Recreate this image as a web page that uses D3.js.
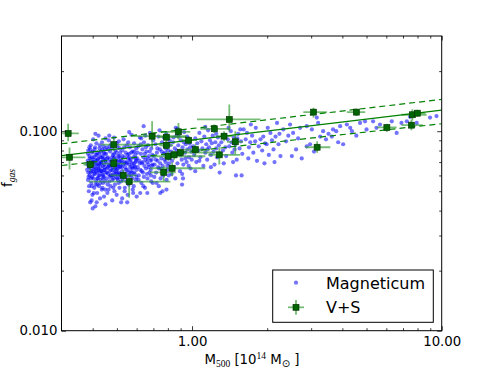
<!DOCTYPE html>
<html>
<head>
<meta charset="utf-8">
<script src="https://cdn.jsdelivr.net/npm/d3@7"></script>
<style>
  body { margin: 0; background: #fff; }
  svg { display: block; font-family: "DejaVu Sans", sans-serif; }
</style>
</head>
<body>
<div id="chart"></div>
<script>
// Axis setup
var xDomain = [0.3, 10];
var yDomain = [0.01, 0.3];
var xMajorTicks = [1, 10];
var xTickLabels = ['1.00', '10.00'];
var xMinorTicks = [0.4, 0.5, 0.6, 0.7, 0.8, 0.9, 2, 3, 4, 5, 6, 7, 8, 9];
var yMajorTicks = [0.01, 0.1];
var yTickLabels = ['0.010', '0.100'];
var yMinorTicks = [0.02, 0.03, 0.04, 0.05, 0.06, 0.07, 0.08, 0.09, 0.2];

// V+S clusters: M500 [1e14 Msun] and f_gas, with error bar ends
var vsMass   = [0.319, 0.323, 0.391, 0.486, 0.486, 0.53, 0.56, 0.692, 0.789, 0.789,
                0.882, 0.969, 0.802, 0.847, 0.898, 0.77, 0.832, 1.031, 1.228, 1.41,
                1.343, 1.49, 1.286, 3.065, 4.553, 3.17, 6.03, 7.63, 7.99, 7.56];
var vsMassLo = [0.302, 0.30, 0.367, 0.43, 0.434, 0.47, 0.385, 0.57, 0.73, 0.74,
                0.747, 0.912, 0.68, 0.80, 0.819, 0.68, 0.68, 0.923, 1.08, 1.047,
                1.25, 1.38, 1.16, 2.79, 4.17, 2.84, 5.5, 6.9, 7.4, 6.9];
var vsMassHi = [0.352, 0.374, 0.41, 0.68, 0.541, 0.60, 0.819, 0.95, 0.955, 0.84,
                0.984, 1.047, 1.13, 0.90, 1.30, 0.86, 1.13, 1.18, 1.42, 1.88,
                1.45, 1.60, 1.56, 3.47, 4.94, 3.58, 6.6, 8.7, 8.6, 8.4];
var vsFgas   = [0.0974, 0.074, 0.068, 0.0857, 0.0688, 0.0601, 0.0559, 0.0944, 0.0933, 0.085,
                0.0993, 0.0901, 0.0749, 0.0761, 0.0782, 0.0622, 0.0652, 0.0809, 0.1028, 0.1145,
                0.0944, 0.0885, 0.0761, 0.1246, 0.1246, 0.0831, 0.1044, 0.1209, 0.1231, 0.1072];
var vsFgasLo = [0.0891, 0.0642, 0.063, 0.0794, 0.0642, 0.0565, 0.0464, 0.0825, 0.087, 0.081,
                0.0908, 0.086, 0.071, 0.072, 0.074, 0.0561, 0.0594, 0.076, 0.098, 0.100,
                0.089, 0.0764, 0.068, 0.117, 0.119, 0.0779, 0.099, 0.113, 0.118, 0.101];
var vsFgasHi = [0.1089, 0.0828, 0.0721, 0.0933, 0.0738, 0.0642, 0.0594, 0.1123, 0.100, 0.089,
                0.110, 0.094, 0.079, 0.080, 0.082, 0.0667, 0.0696, 0.086, 0.108, 0.136,
                0.100, 0.100, 0.083, 0.131, 0.130, 0.0891, 0.109, 0.129, 0.128, 0.114];

// power-law fit and its band, evaluated at the axis ends
var fitMass  = [0.3, 10];
var fitBest  = [0.0755, 0.1275];
var fitUpper = [0.0865, 0.1443];
var fitLower = [0.0673, 0.109];

// Magneticum simulated clusters [M500, f_gas]
var magneticumPoints = [
  [0.380,0.064],[0.382,0.071],[0.383,0.057],[0.384,0.080],[0.386,0.050],[0.387,0.066],[0.388,0.075],[0.389,0.060],[0.390,0.069],[0.391,0.044],
  [0.392,0.062],[0.393,0.085],[0.394,0.072],[0.395,0.055],[0.396,0.067],[0.397,0.078],[0.398,0.059],[0.399,0.048],[0.400,0.070],[0.401,0.063],
  [0.402,0.091],[0.403,0.058],[0.404,0.074],[0.405,0.066],[0.406,0.052],[0.407,0.081],[0.408,0.061],[0.409,0.069],[0.410,0.042],[0.411,0.076],
  [0.412,0.065],[0.413,0.056],[0.414,0.087],[0.415,0.071],[0.416,0.062],[0.417,0.049],[0.418,0.078],[0.419,0.067],[0.420,0.058],[0.421,0.073],
  [0.422,0.095],[0.423,0.064],[0.424,0.053],[0.425,0.069],[0.426,0.082],[0.427,0.060],[0.428,0.046],[0.429,0.074],[0.430,0.066],[0.431,0.057],
  [0.432,0.079],[0.433,0.063],[0.434,0.070],[0.435,0.051],[0.436,0.088],[0.437,0.061],[0.438,0.075],[0.439,0.067],[0.440,0.055],[0.441,0.072],
  [0.442,0.084],[0.443,0.059],[0.444,0.047],[0.445,0.068],[0.446,0.064],[0.447,0.077],[0.448,0.056],[0.449,0.071],[0.450,0.092],[0.451,0.062],
  [0.381,0.068],[0.385,0.059],[0.389,0.073],[0.393,0.065],[0.397,0.053],[0.401,0.079],[0.405,0.061],[0.409,0.083],[0.413,0.068],[0.417,0.058],
  [0.421,0.065],[0.425,0.077],[0.429,0.055],[0.433,0.069],[0.437,0.081],[0.441,0.060],[0.445,0.073],[0.449,0.051],[0.383,0.077],[0.387,0.053],
  [0.391,0.081],[0.395,0.063],[0.399,0.067],[0.403,0.070],[0.407,0.064],[0.411,0.054],[0.415,0.076],[0.419,0.072],[0.423,0.060],[0.427,0.085],
  [0.431,0.070],[0.435,0.063],[0.439,0.058],[0.443,0.078],[0.447,0.066],[0.384,0.062],[0.394,0.058],[0.404,0.049],[0.414,0.063],[0.424,0.068],
  [0.434,0.074],[0.444,0.064],[0.388,0.083],[0.398,0.074],[0.408,0.072],[0.418,0.054],[0.428,0.063],[0.438,0.052],[0.448,0.081],[0.396,0.045],
  [0.452,0.070],[0.454,0.058],[0.455,0.083],[0.457,0.065],[0.458,0.049],[0.460,0.074],[0.461,0.061],[0.463,0.068],[0.464,0.090],[0.466,0.056],
  [0.467,0.072],[0.469,0.063],[0.470,0.079],[0.472,0.053],[0.473,0.067],[0.475,0.086],[0.476,0.060],[0.478,0.071],[0.479,0.045],[0.481,0.064],
  [0.482,0.076],[0.484,0.058],[0.485,0.069],[0.487,0.093],[0.488,0.062],[0.490,0.074],[0.491,0.054],[0.493,0.066],[0.494,0.080],[0.496,0.059],
  [0.497,0.071],[0.499,0.048],[0.500,0.064],[0.502,0.084],[0.503,0.068],[0.505,0.057],[0.506,0.075],[0.508,0.062],[0.509,0.089],[0.511,0.070],
  [0.512,0.052],[0.514,0.066],[0.515,0.078],[0.517,0.060],[0.518,0.073],[0.520,0.044],[0.453,0.077],[0.456,0.062],[0.459,0.054],[0.462,0.081],
  [0.465,0.067],[0.468,0.059],[0.471,0.070],[0.474,0.064],[0.477,0.082],[0.480,0.057],[0.483,0.066],[0.486,0.073],[0.489,0.050],[0.492,0.069],
  [0.495,0.063],[0.498,0.078],[0.501,0.058],[0.504,0.072],[0.507,0.067],[0.510,0.061],[0.513,0.082],[0.516,0.070],[0.519,0.056],[0.457,0.073],
  [0.463,0.051],[0.469,0.084],[0.475,0.068],[0.481,0.060],[0.487,0.077],[0.493,0.061],[0.499,0.087],[0.505,0.065],[0.511,0.075],[0.517,0.067],
  [0.460,0.066],[0.472,0.060],[0.484,0.052],[0.496,0.068],[0.508,0.055],[0.466,0.095],[0.478,0.074],[0.490,0.065],[0.502,0.061],[0.514,0.059],
  [0.522,0.071],[0.524,0.063],[0.526,0.080],[0.528,0.057],[0.530,0.068],[0.532,0.091],[0.534,0.061],[0.536,0.074],[0.538,0.052],[0.540,0.066],
  [0.542,0.078],[0.544,0.059],[0.546,0.070],[0.548,0.085],[0.550,0.064],[0.552,0.048],[0.554,0.073],[0.556,0.062],[0.558,0.077],[0.560,0.068],
  [0.562,0.055],[0.564,0.083],[0.566,0.066],[0.568,0.072],[0.570,0.060],[0.572,0.096],[0.574,0.069],[0.576,0.058],[0.578,0.079],[0.580,0.065],
  [0.582,0.074],[0.584,0.053],[0.586,0.087],[0.588,0.067],[0.590,0.061],[0.592,0.076],[0.594,0.070],[0.596,0.057],[0.598,0.082],[0.600,0.064],
  [0.523,0.066],[0.527,0.075],[0.531,0.059],[0.535,0.083],[0.539,0.069],[0.543,0.064],[0.547,0.056],[0.551,0.076],[0.555,0.088],[0.559,0.060],
  [0.563,0.071],[0.567,0.063],[0.571,0.078],[0.575,0.066],[0.579,0.051],[0.583,0.069],[0.587,0.079],[0.591,0.066],[0.595,0.073],[0.599,0.059],
  [0.525,0.046],[0.537,0.050],[0.549,0.069],[0.561,0.074],[0.573,0.062],[0.585,0.062],[0.597,0.071],[0.533,0.070],[0.557,0.054],[0.581,0.049],
  [0.603,0.073],[0.606,0.066],[0.609,0.084],[0.612,0.060],[0.615,0.071],[0.618,0.093],[0.621,0.064],[0.624,0.077],[0.627,0.055],[0.630,0.069],
  [0.633,0.081],[0.636,0.062],[0.639,0.074],[0.642,0.088],[0.645,0.067],[0.648,0.052],[0.651,0.072],[0.654,0.065],[0.657,0.079],[0.660,0.070],
  [0.663,0.058],[0.666,0.085],[0.669,0.068],[0.672,0.075],[0.675,0.062],[0.678,0.098],[0.681,0.071],[0.684,0.060],[0.687,0.082],[0.690,0.067],
  [0.693,0.076],[0.696,0.055],[0.699,0.090],[0.605,0.078],[0.611,0.057],[0.617,0.069],[0.623,0.086],[0.629,0.063],[0.635,0.070],[0.641,0.059],
  [0.647,0.077],[0.653,0.083],[0.659,0.061],[0.665,0.073],[0.671,0.066],[0.677,0.079],[0.683,0.064],[0.689,0.072],[0.695,0.068],[0.620,0.049],
  [0.638,0.053],[0.662,0.049],[0.686,0.056],[0.650,0.095],[0.626,0.092],
  [0.703,0.075],[0.708,0.068],[0.713,0.086],[0.718,0.062],[0.723,0.078],[0.728,0.071],[0.733,0.094],[0.738,0.065],[0.743,0.081],[0.748,0.058],
  [0.753,0.073],[0.758,0.088],[0.763,0.067],[0.768,0.077],[0.773,0.062],[0.778,0.084],[0.783,0.070],[0.788,0.097],[0.793,0.074],[0.798,0.064],
  [0.803,0.080],[0.808,0.069],[0.813,0.090],[0.818,0.076],[0.706,0.059],[0.716,0.072],[0.726,0.082],[0.736,0.053],[0.746,0.069],[0.756,0.079],
  [0.766,0.060],[0.776,0.072],[0.786,0.082],[0.796,0.067],[0.806,0.060],[0.816,0.085],[0.731,0.066],[0.761,0.050],[0.791,0.057],[0.741,0.101],
  [0.771,0.093],[0.811,0.073],[0.721,0.055],[0.751,0.065],[0.781,0.078],
  [0.825,0.079],[0.832,0.071],[0.839,0.088],[0.846,0.066],[0.853,0.082],[0.860,0.075],[0.867,0.095],[0.874,0.069],[0.881,0.085],[0.888,0.077],
  [0.895,0.063],[0.902,0.090],[0.909,0.072],[0.916,0.083],[0.923,0.068],[0.930,0.099],[0.937,0.078],[0.944,0.086],[0.951,0.070],[0.958,0.081],
  [0.965,0.092],[0.972,0.074],[0.979,0.087],[0.986,0.065],[0.993,0.079],[0.828,0.061],[0.843,0.093],[0.857,0.058],[0.871,0.080],[0.885,0.094],
  [0.899,0.076],[0.913,0.061],[0.927,0.088],[0.941,0.073],[0.955,0.094],[0.969,0.067],[0.983,0.083],[0.997,0.072],[0.912,0.054],[0.876,0.103],
  [1.01,0.084],[1.02,0.076],[1.03,0.092],[1.04,0.070],[1.05,0.087],[1.06,0.080],[1.07,0.098],[1.08,0.074],[1.09,0.089],[1.10,0.082],
  [1.11,0.067],[1.12,0.094],[1.13,0.078],[1.14,0.086],[1.15,0.072],[1.16,0.101],[1.17,0.083],[1.18,0.090],[1.19,0.076],[1.20,0.087],
  [1.21,0.095],[1.22,0.079],[1.23,0.068],[1.24,0.088],[1.25,0.082],[1.26,0.074],[1.27,0.093],[1.28,0.085],[1.29,0.062],[1.03,0.063],
  [1.07,0.071],[1.13,0.105],[1.19,0.066],[1.25,0.097],[1.15,0.081],
  [1.31,0.088],[1.33,0.080],[1.35,0.096],[1.37,0.075],[1.39,0.091],[1.41,0.084],[1.43,0.100],[1.45,0.078],[1.47,0.093],[1.49,0.086],
  [1.51,0.072],[1.53,0.097],[1.55,0.082],[1.57,0.089],[1.59,0.077],[1.34,0.069],[1.40,0.104],[1.46,0.070],[1.52,0.092],[1.58,0.060],
  [1.36,0.083],[1.44,0.088],[1.50,0.060],[1.56,0.102],[1.48,0.081],
  [1.61,0.102],[1.64,0.091],[1.66,0.098],[1.69,0.083],[1.71,0.088],[1.74,0.095],[1.76,0.078],[1.79,0.089],[1.82,0.071],[1.85,0.084],
  [1.88,0.091],[1.91,0.080],[1.93,0.094],[1.96,0.087],[1.99,0.086],[2.03,0.076],[2.06,0.098],[2.09,0.090],[2.12,0.081],[2.16,0.094],
  [2.19,0.110],[2.22,0.086],[2.26,0.075],[1.68,0.073],[1.80,0.104],[1.95,0.069],[2.01,0.104],[2.14,0.070],[1.72,0.108],[2.24,0.097],
  [2.32,0.102],[2.38,0.089],[2.47,0.108],[2.51,0.075],[2.54,0.098],[2.61,0.081],[2.71,0.104],[2.75,0.073],[2.88,0.106],[2.88,0.084],
  [2.97,0.086],[3.02,0.102],[3.08,0.079],[3.16,0.117],[3.20,0.110],[3.35,0.100],[3.44,0.091],[3.63,0.094],[3.67,0.102],[3.78,0.100],
  [3.85,0.088],[3.92,0.106],[2.43,0.095],[2.66,0.092],[3.26,0.094],[3.52,0.097],
  [4.03,0.086],[4.17,0.108],[4.30,0.104],[4.37,0.100],[4.71,0.110],[4.93,0.112],[5.00,0.102],[5.31,0.112],[5.66,0.108],[6.03,0.103],
  [6.31,0.112],[6.60,0.098],[6.90,0.110],[7.25,0.112],[7.47,0.118],[7.94,0.110],[8.98,0.117],[9.53,0.119],[4.55,0.095],[5.48,0.104],
  [0.746,0.049],[0.790,0.051],[0.920,0.058],[0.600,0.047],[0.550,0.044],[0.450,0.043],[0.400,0.041],[0.415,0.044],
  [0.640,0.106],[0.410,0.097],[0.560,0.099],[0.860,0.104]
];

var legendLabels = ['Magneticum', 'V+S'];

var width = 491, height = 368;
var plot = {left: 61.5, right: 441.7, top: 36, bottom: 330.7};

var svg = d3.select('#chart').append('svg')
    .attr('width', width)
    .attr('height', height);

var x = d3.scaleLog().domain(xDomain).range([plot.left, plot.right]);
var y = d3.scaleLog().domain(yDomain).range([plot.bottom, plot.top]);

svg.append('clipPath').attr('id', 'plotclip')
  .append('rect')
    .attr('x', plot.left).attr('y', plot.top)
    .attr('width', plot.right - plot.left)
    .attr('height', plot.bottom - plot.top);

var area = svg.append('g').attr('clip-path', 'url(#plotclip)');

// simulated clusters
var dotR = 2.1, dotAlpha = 0.55;
area.append('g').selectAll('circle').data(magneticumPoints)
  .enter().append('circle')
    .attr('cx', function(d) { return x(d[0]); })
    .attr('cy', function(d) { return y(d[1]); })
    .attr('r', dotR)
    .attr('fill', '#0000ff')
    .attr('fill-opacity', dotAlpha);

// error bars (light green, drawn under the markers)
var idx = d3.range(vsMass.length);
var bars = area.append('g')
    .attr('stroke', '#2e9a2e')
    .attr('stroke-opacity', 0.65)
    .attr('stroke-width', 1.8);
bars.selectAll('line.h').data(idx).enter().append('line')
    .attr('x1', function(i) { return x(vsMassLo[i]); })
    .attr('x2', function(i) { return x(vsMassHi[i]); })
    .attr('y1', function(i) { return y(vsFgas[i]); })
    .attr('y2', function(i) { return y(vsFgas[i]); });
bars.selectAll('line.v').data(idx).enter().append('line')
    .attr('x1', function(i) { return x(vsMass[i]); })
    .attr('x2', function(i) { return x(vsMass[i]); })
    .attr('y1', function(i) { return y(vsFgasLo[i]); })
    .attr('y2', function(i) { return y(vsFgasHi[i]); });

// fit lines
var fitLine = d3.line()
    .x(function(d) { return x(d[0]); })
    .y(function(d) { return y(d[1]); });
function drawFit(values, dashed) {
  area.append('path')
      .datum(fitMass.map(function(m, i) { return [m, values[i]]; }))
      .attr('d', fitLine)
      .attr('fill', 'none')
      .attr('stroke', '#008000')
      .attr('stroke-width', 1.2)
      .attr('stroke-dasharray', dashed ? '6,4' : null);
}
drawFit(fitBest, false);
drawFit(fitUpper, true);
drawFit(fitLower, true);

// V+S markers
var sq = 6;
area.append('g').selectAll('rect').data(idx).enter().append('rect')
    .attr('x', function(i) { return x(vsMass[i]) - sq / 2; })
    .attr('y', function(i) { return y(vsFgas[i]) - sq / 2; })
    .attr('width', sq).attr('height', sq)
    .attr('fill', '#006400')
    .attr('stroke', '#003000')
    .attr('stroke-width', 0.6);

// axes: ticks point inward on all four sides
function styleAxis(sel) {
  sel.select('.domain').remove();
  sel.selectAll('line').attr('stroke', '#000').attr('stroke-width', 0.8);
  sel.selectAll('text')
      .attr('fill', '#000')
      .attr('font-size', 13.3)
      .attr('font-family', '"DejaVu Sans", sans-serif');
}
function addAxis(axis, tx, ty) {
  svg.append('g').attr('transform', 'translate(' + tx + ',' + ty + ')')
      .call(axis).call(styleAxis);
}
var noLabel = function() { return ''; };

addAxis(d3.axisBottom(x).tickValues(xMajorTicks).tickSize(-4.5).tickPadding(6)
    .tickFormat(function(d, i) { return xTickLabels[i]; }), 0, plot.bottom);
addAxis(d3.axisBottom(x).tickValues(xMinorTicks).tickSize(-2.5).tickFormat(noLabel), 0, plot.bottom);
addAxis(d3.axisTop(x).tickValues(xMajorTicks).tickSize(-4.5).tickFormat(noLabel), 0, plot.top);
addAxis(d3.axisTop(x).tickValues(xMinorTicks).tickSize(-2.5).tickFormat(noLabel), 0, plot.top);
addAxis(d3.axisLeft(y).tickValues(yMajorTicks).tickSize(-4.5).tickPadding(4)
    .tickFormat(function(d, i) { return yTickLabels[i]; }), plot.left, 0);
addAxis(d3.axisLeft(y).tickValues(yMinorTicks).tickSize(-2.5).tickFormat(noLabel), plot.left, 0);
addAxis(d3.axisRight(y).tickValues(yMajorTicks).tickSize(-4.5).tickFormat(noLabel), plot.right, 0);
addAxis(d3.axisRight(y).tickValues(yMinorTicks).tickSize(-2.5).tickFormat(noLabel), plot.right, 0);

svg.append('rect')
    .attr('x', plot.left).attr('y', plot.top)
    .attr('width', plot.right - plot.left)
    .attr('height', plot.bottom - plot.top)
    .attr('fill', 'none')
    .attr('stroke', '#000')
    .attr('stroke-width', 1);

// axis labels
var mathFont = '"Liberation Serif", serif';
var xl = svg.append('text')
    .attr('x', 252).attr('y', 364)
    .attr('text-anchor', 'middle')
    .attr('font-size', 13.3);
xl.append('tspan').text('M');
xl.append('tspan').attr('dy', 3).attr('font-size', 9.5).attr('font-family', mathFont).text('500');
xl.append('tspan').attr('dy', -3).text(' [10');
xl.append('tspan').attr('dy', -5).attr('font-size', 9.5).attr('font-family', mathFont).text('14');
xl.append('tspan').attr('dy', 5).text(' M');
xl.append('tspan').attr('dy', 3).attr('font-size', 10).text('\u2299');
xl.append('tspan').attr('dy', -3).text(' ]');

var yl = svg.append('text')
    .attr('transform', 'translate(11.5,178) rotate(-90)')
    .attr('text-anchor', 'middle')
    .attr('font-size', 13.3);
yl.append('tspan').text('f');
yl.append('tspan').attr('dy', 3.5).attr('font-size', 9.5)
    .attr('font-family', mathFont).attr('font-style', 'italic').text('gas');

// legend
var lg = svg.append('g').attr('transform', 'translate(272.7,270)');
lg.append('rect')
    .attr('width', 160.6).attr('height', 52.3)
    .attr('fill', '#fff').attr('stroke', '#000').attr('stroke-width', 1);
lg.append('circle')
    .attr('cx', 23.3).attr('cy', 12.7).attr('r', dotR)
    .attr('fill', '#0000ff').attr('fill-opacity', dotAlpha);
lg.append('line').attr('x1', 15.3).attr('x2', 31.3).attr('y1', 37.3).attr('y2', 37.3)
    .attr('stroke', '#2e9a2e').attr('stroke-opacity', 0.65).attr('stroke-width', 1.8);
lg.append('line').attr('x1', 23.3).attr('x2', 23.3).attr('y1', 30).attr('y2', 44.8)
    .attr('stroke', '#2e9a2e').attr('stroke-opacity', 0.65).attr('stroke-width', 1.8);
lg.append('rect')
    .attr('x', 23.3 - sq / 2).attr('y', 37.3 - sq / 2)
    .attr('width', sq).attr('height', sq)
    .attr('fill', '#006400').attr('stroke', '#003000').attr('stroke-width', 0.6);
lg.selectAll('text.lab').data(legendLabels).enter().append('text')
    .attr('x', 53.3)
    .attr('y', function(d, i) { return 19 + i * 24; })
    .attr('font-size', 16)
    .attr('fill', '#000')
    .text(function(d) { return d; });
</script>
</body>
</html>
